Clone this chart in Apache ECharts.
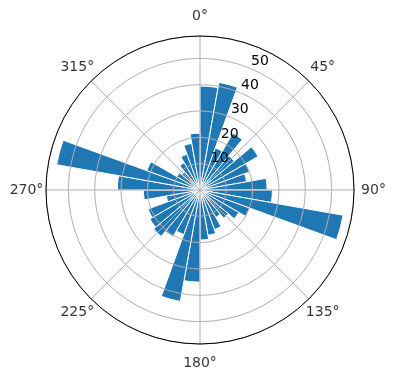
<!DOCTYPE html>
<html>
<head>
<meta charset="utf-8">
<script src="https://cdn.jsdelivr.net/npm/echarts@6/dist/echarts.min.js"></script>
<style>
html,body{margin:0;padding:0;background:#fff;}
#c{width:396px;height:380px;}
</style>
</head>
<body>
<div id="c"></div>
<script>
// 36 direction bins of 10 degrees, starting at 0 (north), clockwise
const sectors = ['0','10','20','30','40','50','60','70','80','90','100','110','120','130','140','150','160','170',
  '180','190','200','210','220','230','240','250','260','270','280','290','300','310','320','330','340','350'];
const radii = [39.5, 41.5, 17, 25, 17, 25.5, 20, 18, 25.5,
  27.5, 55.2, 20, 17, 14, 12, 16, 17.5, 19,
  35, 43, 18, 20.5, 23, 22, 21, 13, 21.5,
  31.4, 55.3, 21.5, 10, 9, 12, 14.5, 18, 21.6];
const angleTicks = [0, 45, 90, 135, 180, 225, 270, 315];
const radiusTicks = [10, 20, 30, 40, 50];
const rMax = 58.5;

const chart = echarts.init(document.getElementById('c'), null, {renderer: 'canvas'});
const CX = 200, CY = 190, R = 154;
const font = 'DejaVu Sans';
const grey = '#b0b0b0';

chart.setOption({
  backgroundColor: '#ffffff',
  animation: false,
  polar: [
    {center: [CX, CY], radius: R},
    {center: [CX, CY], radius: R},
    {center: [CX + 9.6, CY - 7.2], radius: R},
    {center: [CX, CY], radius: R + 19.5}
  ],
  angleAxis: [
    {
      polarIndex: 0, type: 'category', data: sectors, startAngle: 90, clockwise: true,
      boundaryGap: true,
      axisLine: {show: false}, axisTick: {show: false}, axisLabel: {show: false}, splitLine: {show: false}
    },
    {
      polarIndex: 1, type: 'value', min: 0, max: 360, interval: angleTicks[1] - angleTicks[0],
      startAngle: 90, clockwise: true, z: 5,
      axisLine: {show: true, lineStyle: {color: '#000', width: 1}},
      axisTick: {show: false},
      axisLabel: {show: false},
      splitLine: {show: true, lineStyle: {color: grey, width: 1}}
    },
    {
      polarIndex: 2, type: 'value', min: 0, max: 360, startAngle: 67.5, clockwise: true,
      axisLine: {show: false}, axisTick: {show: false}, axisLabel: {show: false}, splitLine: {show: false}
    },
    {
      polarIndex: 3, type: 'value', min: 0, max: 360, startAngle: 90, clockwise: true,
      axisLine: {show: false}, axisTick: {show: false}, axisLabel: {show: false}, splitLine: {show: false}
    }
  ],
  radiusAxis: [
    {
      polarIndex: 0, type: 'value', min: 0, max: rMax,
      axisLine: {show: false}, axisTick: {show: false}, axisLabel: {show: false}, splitLine: {show: false}
    },
    {
      polarIndex: 1, type: 'value', min: 0, max: rMax, interval: radiusTicks[1] - radiusTicks[0], z: 5,
      axisLine: {show: false}, axisTick: {show: false}, axisLabel: {show: false},
      splitLine: {show: true, lineStyle: {color: grey, width: 1}}
    },
    {
      polarIndex: 2, type: 'value', min: 0, max: rMax, interval: radiusTicks[1] - radiusTicks[0], z: 6,
      axisLine: {show: false}, axisTick: {show: false}, splitLine: {show: false},
      axisLabel: {
        show: true, margin: 0, color: '#000', fontSize: 14, fontFamily: font,
        align: 'center', verticalAlign: 'middle',
        showMinLabel: false, showMaxLabel: false,
        formatter: v => (radiusTicks.indexOf(v) >= 0 ? String(v) : '')
      }
    },
    {
      polarIndex: 3, type: 'value', min: 0, max: 1,
      axisLine: {show: false}, axisTick: {show: false}, axisLabel: {show: false}, splitLine: {show: false}
    }
  ],
  series: [
    {
      type: 'bar',
      coordinateSystem: 'polar',
      polarIndex: 0,
      data: radii,
      barCategoryGap: '0%',
      itemStyle: {color: '#1f77b4', borderColor: '#ffffff', borderWidth: 1}
    },
    {
      type: 'scatter',
      coordinateSystem: 'polar',
      polarIndex: 3,
      symbolSize: 0,
      silent: true,
      data: angleTicks.map(a => [1, a]),
      label: {
        show: true, position: 'inside', color: '#000', fontSize: 14, fontFamily: font,
        align: 'center', verticalAlign: 'middle',
        formatter: p => p.value[1] + '°'
      }
    }
  ]
});
</script>
</body>
</html>
